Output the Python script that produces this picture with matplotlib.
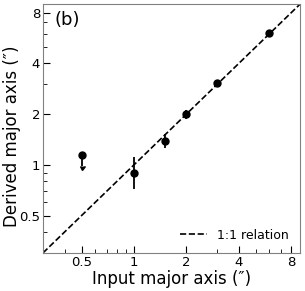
import numpy as np
import matplotlib.pyplot as plt
from matplotlib.ticker import FixedLocator, LogLocator, FixedFormatter, NullFormatter

# Measured points
input_axis = [1.0, 1.5, 2.0, 3.0, 6.0]
derived_axis = [0.90, 1.38, 2.0, 3.05, 6.1]
err_low = [0.18, 0.12, 0.12, 0.06, 0.06]
err_high = [0.22, 0.14, 0.12, 0.06, 0.06]

# Upper limit
limit_x = [0.5]
limit_y = [1.15]
limit_len = [0.17]

one_to_one = [0.3, 9.0]
major_ticks = [0.5, 1, 2, 4, 8]
major_labels = ['0.5', '1', '2', '4', '8']

fig = plt.figure(figsize=(3.05, 2.91), dpi=100)
ax = fig.add_axes([0.141, 0.131, 0.843, 0.855])

ax.plot(one_to_one, one_to_one, 'k--', lw=1.2, label='1:1 relation')
ax.errorbar(input_axis, derived_axis, yerr=[err_low, err_high], fmt='o', color='k',
            ms=5, elinewidth=1.3, capsize=0)
ax.errorbar(limit_x, limit_y, yerr=limit_len, uplims=True, fmt='o', color='k',
            ms=5, elinewidth=1.3, capsize=1.8)

ax.set_xscale('log')
ax.set_yscale('log')
ax.set_xlim(0.3, 9)
ax.set_ylim(0.3, 9)

for axis in (ax.xaxis, ax.yaxis):
    axis.set_major_locator(FixedLocator(major_ticks))
    axis.set_major_formatter(FixedFormatter(major_labels))
    axis.set_minor_locator(LogLocator(base=10, subs=np.arange(2, 10)))
    axis.set_minor_formatter(NullFormatter())

ax.tick_params(which='both', direction='in', top=False, right=False, labelsize=9.5, pad=2)
ax.tick_params(which='major', length=5)
ax.tick_params(which='minor', length=3)
for s in ax.spines.values():
    s.set_color('gray')

ax.set_xlabel('Input major axis (″)', fontsize=12, labelpad=1)
ax.set_ylabel('Derived major axis (″)', fontsize=12)
ax.yaxis.set_label_coords(-0.085, 0.47)
ax.text(0.045, 0.915, '(b)', transform=ax.transAxes, fontsize=13)
ax.legend(loc='lower right', frameon=False, fontsize=9, handlelength=2.2)

fig.savefig('out.png', dpi=100)
